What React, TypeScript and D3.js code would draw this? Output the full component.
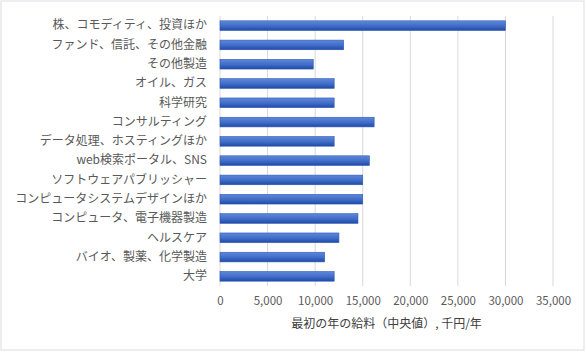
import { useLayoutEffect, useRef } from "react";
import * as d3 from "d3";

const WIDTH = 586;
const HEIGHT = 352;
const MARGIN = { top: 16, right: 33, bottom: 66, left: 220 };

const categories = [
  "株、コモディティ、投資ほか",
  "ファンド、信託、その他金融",
  "その他製造",
  "オイル、ガス",
  "科学研究",
  "コンサルティング",
  "データ処理、ホスティングほか",
  "web検索ポータル、SNS",
  "ソフトウェアパブリッシャー",
  "コンピュータシステムデザインほか",
  "コンピュータ、電子機器製造",
  "ヘルスケア",
  "バイオ、製薬、化学製造",
  "大学",
];

// 千円/年
const salaries = [30000, 13000, 9800, 12000, 12000, 16200, 12000, 15700, 15000, 15000, 14500, 12500, 11000, 12000];

const xTicks = [0, 5000, 10000, 15000, 20000, 25000, 30000, 35000];

const axisTitle = "最初の年の給料（中央値）, 千円/年";

const FONT = "'Noto Sans CJK JP', 'Noto Sans', sans-serif";

type Row = { name: string; value: number };
const data: Row[] = categories.map((name, i) => ({ name, value: salaries[i] }));

const App = () => {
  const axesRef = useRef<SVGGElement>(null);
  const boundsWidth = WIDTH - MARGIN.left - MARGIN.right;
  const boundsHeight = HEIGHT - MARGIN.top - MARGIN.bottom;

  const xScale = d3.scaleLinear().domain([0, 35000]).range([0, boundsWidth]);
  const yScale = d3
    .scaleBand<string>()
    .domain(categories)
    .range([0, boundsHeight])
    .paddingInner(0.5)
    .paddingOuter(0.25);

  // axes drawn with d3
  useLayoutEffect(() => {
    const g = d3.select(axesRef.current);
    g.selectAll("*").remove();

    const xAxis = g
      .append("g")
      .attr("transform", `translate(0,${boundsHeight})`)
      .call(
        d3
          .axisBottom(xScale)
          .tickValues(xTicks)
          .tickSize(0)
          .tickPadding(11)
          .tickFormat((d) => d3.format(",")(d as number))
      );
    xAxis.select(".domain").remove();
    xAxis
      .selectAll("text")
      .attr("fill", "#595959")
      .style("font-family", FONT)
      .style("font-size", "11.5px");

    const yAxis = g.append("g").call(d3.axisLeft(yScale).tickSize(0).tickPadding(13));
    yAxis.select(".domain").remove();
    yAxis
      .selectAll("text")
      .attr("fill", "#595959")
      .style("font-family", FONT)
      .style("font-size", "12px");
  }, [xScale, yScale, boundsHeight]);

  return (
    <svg width={WIDTH} height={HEIGHT} style={{ position: "absolute", left: 0, top: 0 }}>
      <defs>
        <linearGradient id="barFill" x1="0" y1="0" x2="0" y2="1">
          <stop offset="0%" stopColor="#5e88d8" />
          <stop offset="55%" stopColor="#3f6cc8" />
          <stop offset="100%" stopColor="#1f4aa6" />
        </linearGradient>
      </defs>
      <rect x={1} y={1} width={WIDTH - 3} height={HEIGHT - 3} fill="#fff" stroke="#d9dde4" strokeWidth={1} />
      <g transform={`translate(${MARGIN.left},${MARGIN.top})`}>
        {xTicks.map((t) => (
          <line
            key={t}
            x1={xScale(t)}
            x2={xScale(t)}
            y1={0}
            y2={boundsHeight}
            stroke="#d9d9d9"
            strokeWidth={1}
          />
        ))}
        {data.map((d) => (
          <rect
            key={d.name}
            x={xScale(0)}
            y={yScale(d.name)}
            width={xScale(d.value) - xScale(0)}
            height={yScale.bandwidth()}
            fill="url(#barFill)"
            stroke="#2d58b4"
            strokeWidth={0.6}
          />
        ))}
        <g ref={axesRef} />
        <text
          x={boundsWidth / 2}
          y={boundsHeight + 42}
          textAnchor="middle"
          fill="#404040"
          fontFamily={FONT}
          fontSize={12}
        >
          {axisTitle}
        </text>
      </g>
    </svg>
  );
};

export default App;
